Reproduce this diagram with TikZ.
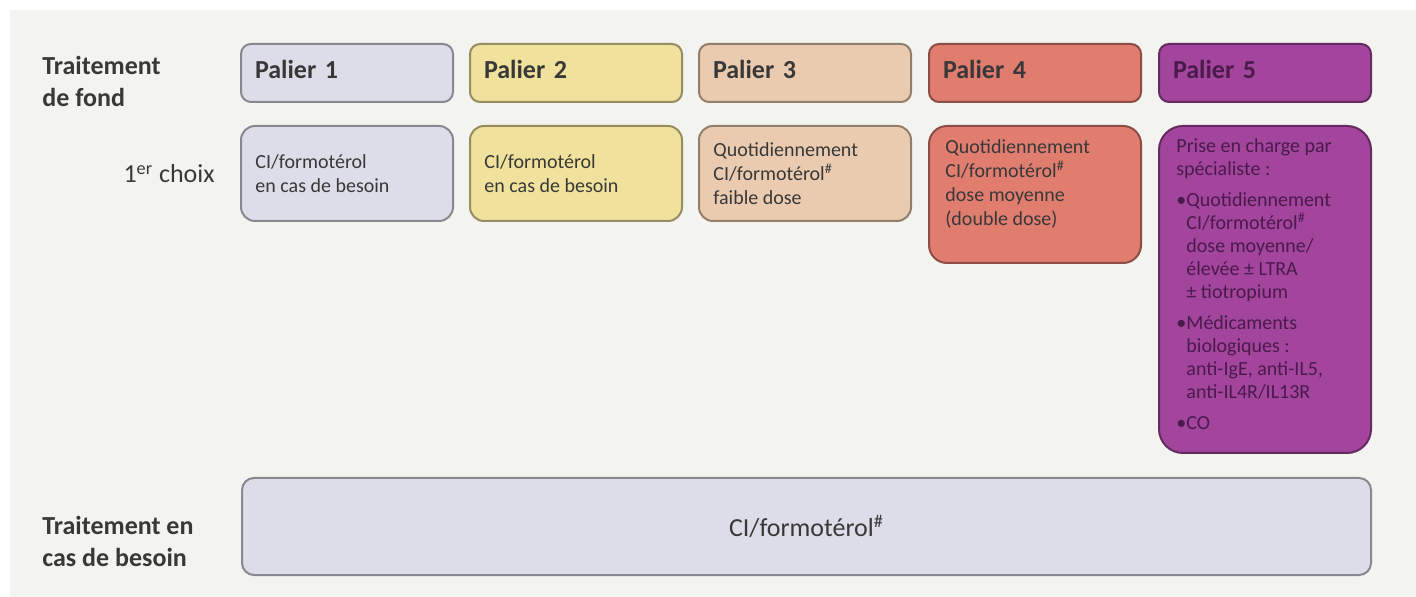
\documentclass[tikz,border=0pt]{standalone}
\usepackage{fontspec}
\setmainfont{Carlito}
\usepackage{tikz}
\usetikzlibrary{calc,positioning}
\definecolor{fondbg}{HTML}{F3F3EF}
\definecolor{pal1}{HTML}{DCDDE8}
\definecolor{pal2}{HTML}{F0E29C}
\definecolor{pal3}{HTML}{EBCBB0}
\definecolor{pal4}{HTML}{E07D6F}
\definecolor{pal5}{HTML}{A3459C}
\definecolor{txtgray}{HTML}{383838}
\definecolor{txtpurple}{HTML}{4A1A4C}
\def\dieze{\textsuperscript{\#}}

\tikzset{
  palier/.style={draw=#1!62!black, fill=#1, line width=1pt, rounded corners=5pt,
    anchor=north west, minimum width=106pt, minimum height=29pt, text width=92pt,
    text depth=4pt, inner xsep=7pt, align=left, text=txtgray,
    font=\fontsize{13}{15}\selectfont\bfseries},
  choix/.style={draw=#1!62!black, fill=#1, line width=1pt, anchor=north west,
    minimum width=106pt},
  boxtxt/.style={align=left, inner sep=0pt, text=txtgray, font=\fontsize{10}{12}\selectfont},
  rowtitle/.style={anchor=north west, align=left, inner sep=0pt, text=txtgray,
    font=\fontsize{13}{16}\selectfont\bfseries}
}

\begin{document}
\begin{tikzpicture}[x=0.5pt, y=-0.5pt]
			%%%%% START %%%%%
			
			\useasboundingbox (0, 0) rectangle (1416, 597);
			\fill[white] (0, 0) rectangle (1416, 597);
			\fill[fondbg] (10, 10) rectangle (1416, 597);
			
			% titres des lignes
			\node[rowtitle] (fond) at (42, 56) {Traitement\\de fond};
			\node[anchor=east, inner sep=0pt, text=txtgray, font=\fontsize{13}{15}\selectfont] (choix) at (215, 174) {1\textsuperscript{er} choix};
			\node[rowtitle] (besoin) at (42, 516) {Traitement en\\cas de besoin};
			
			% paliers
			\node[palier=pal1] (p1) at (240, 43) {Palier 1};
			\node[palier=pal2] (p2) at (469, 43) {Palier 2};
			\node[palier=pal3] (p3) at (698, 43) {Palier 3};
			\node[palier=pal4] (p4) at (928, 43) {Palier 4};
			\node[palier=pal5, text=txtpurple] (p5) at (1158, 43) {Palier 5};
			
			% 1er choix
			\node[choix=pal1, minimum height=47.5pt, rounded corners=7pt] (c1) at (240, 125) {};
			\node[choix=pal2, minimum height=47.5pt, rounded corners=7pt] (c2) at (469, 125) {};
			\node[choix=pal3, minimum height=47.5pt, rounded corners=7pt] (c3) at (698, 125) {};
			\node[choix=pal4, minimum height=68.5pt, rounded corners=9pt] (c4) at (928, 125) {};
			\node[choix=pal5, minimum height=163.5pt, rounded corners=12pt] (c5) at (1158, 125) {};
			
			\node[boxtxt, anchor=west] (t1) at ($(c1.west)+(15, 0)$) {CI/formotérol\\en cas de besoin};
			\node[boxtxt, anchor=west] (t2) at ($(c2.west)+(15, 0)$) {CI/formotérol\\en cas de besoin};
			\node[boxtxt, anchor=west] (t3) at ($(c3.west)+(15, 0)$) {Quotidiennement\\CI/formotérol\dieze\\faible dose};
			\node[boxtxt, anchor=north west] (t4) at ($(c4.north west)+(17, 14)$) {Quotidiennement\\CI/formotérol\dieze\\dose moyenne\\(double dose)};
			\node[boxtxt, anchor=north west, text=txtpurple, font=\fontsize{10}{11.5}\selectfont] (t5) at ($(c5.north west)+(18, 13)$)
			{Prise en charge par\\spécialiste :\\[4pt]
			 \makebox[5pt][l]{•}Quotidiennement\\
			 \hspace*{5pt}CI/formotérol\dieze\\
			 \hspace*{5pt}dose moyenne/\\
			 \hspace*{5pt}élevée ± LTRA\\
			 \hspace*{5pt}± tiotropium\\[4pt]
			 \makebox[5pt][l]{•}Médicaments\\
			 \hspace*{5pt}biologiques :\\
			 \hspace*{5pt}anti-IgE, anti-IL5,\\
			 \hspace*{5pt}anti-IL4R/IL13R\\[4pt]
			 \makebox[5pt][l]{•}CO};
			
			% en cas de besoin
			\node[choix=pal1, minimum width=564.5pt, minimum height=48.5pt, rounded corners=6pt] (b1) at (241, 477) {};
			\node[inner sep=0pt, text=txtgray, font=\fontsize{13}{15}\selectfont] (bt) at (b1.center) {CI/formotérol\dieze};
			
			%%%%% END %%%%%
\end{tikzpicture}
\end{document}
